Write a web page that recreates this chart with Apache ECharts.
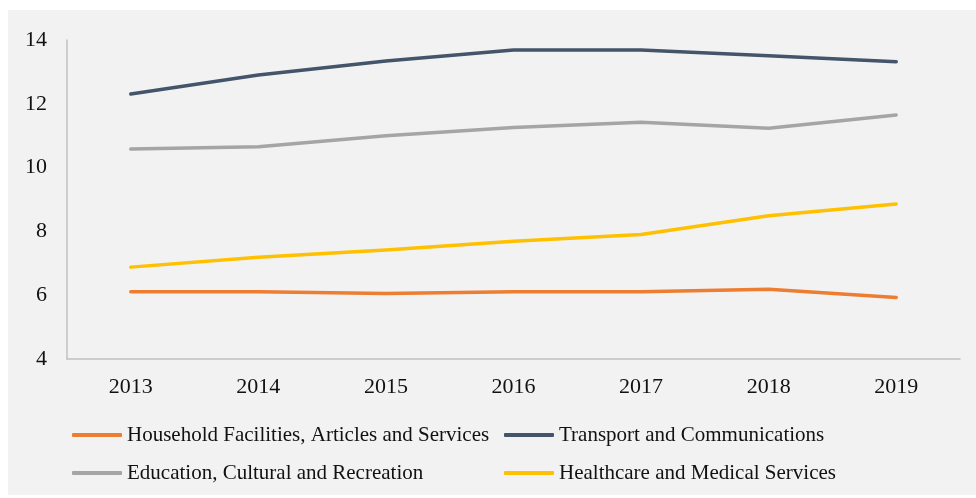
<!DOCTYPE html>
<html>
<head>
<meta charset="utf-8">
<script src="https://cdn.jsdelivr.net/npm/echarts@6/dist/echarts.min.js"></script>
<style>
  html, body { margin: 0; padding: 0; background: #ffffff; }
  #chart { position: absolute; left: 8px; top: 10px; width: 968px; height: 485px; background: #f2f2f2; }
</style>
</head>
<body>
<div id="chart"></div>
<script>
// Household consumption shares by category, 2013–2019
const years = ['2013', '2014', '2015', '2016', '2017', '2018', '2019'];
const household = [6.11, 6.11, 6.05, 6.11, 6.11, 6.19, 5.93];
const transport = [12.31, 12.90, 13.34, 13.69, 13.69, 13.51, 13.32];
const education = [10.58, 10.65, 11.00, 11.26, 11.42, 11.23, 11.65];
const healthcare = [6.88, 7.19, 7.42, 7.69, 7.90, 8.49, 8.86];

const names = [
  'Household Facilities, Articles and Services',
  'Transport and Communications',
  'Education, Cultural and Recreation',
  'Healthcare and Medical Services'
];
const colors = ['#ED7D31', '#44546A', '#A5A5A5', '#FFC000'];
const values = [household, transport, education, healthcare];

const font = 'Liberation Serif, Times New Roman, serif';

const legendBase = {
  orient: 'vertical',
  top: 408,
  padding: 5,
  itemWidth: 50,
  itemHeight: 4,
  itemGap: 14,
  icon: 'roundRect',
  textStyle: { fontFamily: font, fontSize: 21, color: '#111', lineHeight: 24 }
};

const chart = echarts.init(document.getElementById('chart'));
chart.setOption({
  backgroundColor: '#f2f2f2',
  animation: false,
  grid: { left: 59, right: 16, top: 30, bottom: 136 },
  legend: [
    Object.assign({}, legendBase, { left: 59, data: [names[0], names[2]] }),
    Object.assign({}, legendBase, { left: 491, data: [names[1], names[3]] })
  ],
  xAxis: {
    type: 'category',
    data: years,
    boundaryGap: true,
    axisLine: { show: true, lineStyle: { color: '#c0c0c0', width: 1.5 } },
    axisTick: { show: false },
    axisLabel: { fontFamily: font, fontSize: 22, color: '#111', margin: 17 }
  },
  yAxis: {
    type: 'value',
    min: 4,
    max: 14,
    interval: 2,
    axisLine: { show: true, lineStyle: { color: '#c0c0c0', width: 1.5 } },
    axisTick: { show: false },
    splitLine: { show: false },
    axisLabel: { fontFamily: font, fontSize: 22, color: '#111', margin: 20 }
  },
  series: names.map((n, i) => ({
    name: n,
    type: 'line',
    data: values[i],
    symbol: 'none',
    color: colors[i],
    lineStyle: { width: 3.5, color: colors[i], cap: 'round', join: 'round' }
  }))
});
</script>
</body>
</html>
